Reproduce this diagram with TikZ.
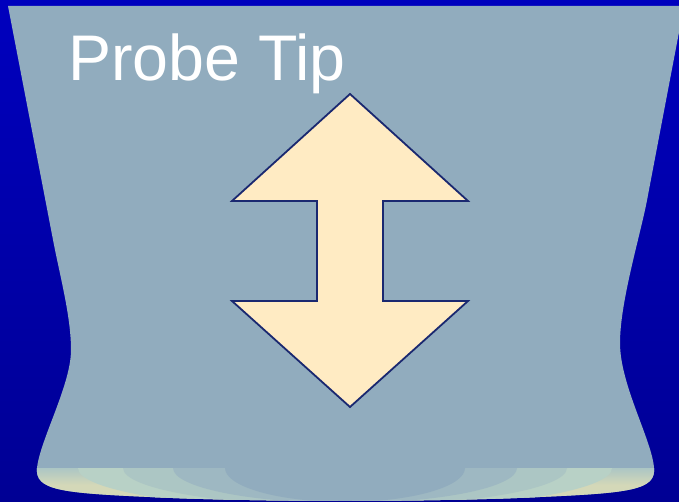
\documentclass[tikz,border=0pt]{standalone}
\usepackage{fontspec}
\setmainfont{Liberation Sans}
\definecolor{bgtop}{RGB}{0,0,190}
\definecolor{bgbot}{RGB}{0,0,148}
\definecolor{probe}{RGB}{145,172,190}
\definecolor{cream}{RGB}{255,235,195}
\definecolor{navy}{RGB}{26,40,112}
\definecolor{bandA}{RGB}{212,216,184}
\definecolor{bandB}{RGB}{184,209,198}
\definecolor{bandC}{RGB}{172,198,196}
\definecolor{bandD}{RGB}{158,184,194}
\tikzset{arrowshape/.style={fill=cream,draw=navy,line width=1.8pt,line join=miter}}
\begin{document}
\begin{tikzpicture}[x=1pt,y=-1pt]
\useasboundingbox (0,0) rectangle (679,502);
\shade[top color=bgtop,bottom color=bgbot] (0,0) rectangle (679,502);
\def\probepath{(8,6) -- (54,245) .. controls (61,280) and (71,318) .. (71,350)
  .. controls (71,385) and (40,440) .. (37,468)
  .. controls (35,490) and (60,493) .. (150,497)
  .. controls (250,502) and (440,502) .. (540,497)
  .. controls (630,493) and (656,490) .. (654,468)
  .. controls (652,440) and (620,385) .. (620,343)
  .. controls (620,300) and (642,230) .. (648,195)
  -- (684,6) -- cycle}
\fill[probe] \probepath;
\begin{scope}
\clip \probepath;
\clip (0,468) rectangle (679,502);
\shade[top color=bandC,bottom color=bandA,middle color=bandA] (0,468) rectangle (679,502);
\fill[bandB] (345,468) ellipse [x radius=267,y radius=42];
\fill[bandC] (345,468) ellipse [x radius=222,y radius=38];
\fill[bandD] (345,468) ellipse [x radius=172,y radius=35];
\fill[probe] (345,468) ellipse [x radius=120,y radius=34];
\end{scope}
\node[anchor=base west,inner sep=0pt,text=white,font=\fontsize{64.5}{64.5}\selectfont] (title) at (68,81) {Probe Tip};
\draw[arrowshape] (350,94) coordinate (tip) -- (468,201) -- (383,201) -- (383,301) -- (468,301)
  -- (350,407) -- (232,301) -- (317,301) -- (317,201) -- (232,201) -- cycle;
\end{tikzpicture}
\end{document}
